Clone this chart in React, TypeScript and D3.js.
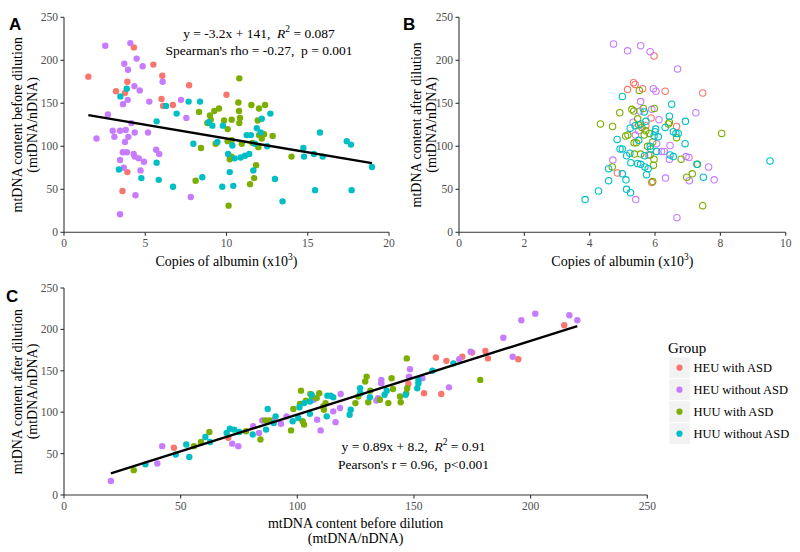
import React from "react";
import * as d3 from "d3";

type Pt = [number, number];

const groupNames = ["HEU with ASD", "HEU without ASD", "HUU with ASD", "HUU without ASD"];
const groupColors = ["#F8766D", "#C77CFF", "#7CAE00", "#00BFC4"];

// Panel A: copies of albumin (x10^3) vs mtDNA before dilution
const aHeuAsd: Pt[] = [[1.5,181],[4.3,215],[5.5,195],[6.05,182],[3.2,164],[3.9,175],[3.75,162],[6.0,155],[6.1,147],[6.7,148],[7.7,171],[10.0,160],[3.9,70],[3.6,48]];
const aHeuNo: Pt[] = [[2.54,217],[4.08,220],[4.47,202],[4.84,193],[3.71,196],[3.94,189],[4.33,170],[4.66,165],[3.92,154],[3.63,149],[5.25,152],[6.07,175],[7.2,154],[7.53,133],[2.7,137],[2.0,109],[3.0,118],[3.1,111],[3.45,118],[3.8,119],[3.96,111],[3.75,105],[4.15,127],[4.35,116],[5.17,116],[3.62,93],[3.87,93],[4.29,91],[4.35,88],[4.6,86],[4.92,82],[5.67,96],[5.86,91],[3.45,84],[3.68,75],[4.71,72],[4.4,43],[7.8,41],[3.45,21]];
const aHuuAsd: Pt[] = [[10.79,179],[8.31,140],[8.98,136],[9.25,141],[9.54,144],[9.03,131],[8.82,127],[9.85,130],[10.32,131],[10.73,151],[10.77,141],[10.83,133],[10.79,127],[11.53,148],[12.0,144],[12.37,148],[11.92,130],[10.07,120],[12.0,113],[12.31,114],[12.17,109],[12.84,112],[10.32,107],[10.07,106],[10.94,103],[11.96,99],[11.59,104],[8.43,98],[9.33,103],[10.3,88],[10.2,85],[14.0,88],[11.82,78],[11.7,63],[11.45,56],[8.1,60],[10.13,31]];
const aHuuNo: Pt[] = [[3.86,167],[3.47,158],[3.38,73],[4.76,63],[5.7,129],[5.7,81],[5.83,61],[6.28,147],[6.93,138],[6.71,53],[7.67,152],[8.37,152],[7.96,103],[8.51,64],[8.9,128],[9.13,124],[9.78,124],[9.44,105],[10.1,91],[10.36,101],[10.2,70],[9.74,53],[10.42,54],[10.5,86],[10.87,87],[11.14,89],[11.4,91],[11.24,113],[11.5,113],[11.86,121],[12.1,116],[12.17,132],[12.7,138],[11.75,103],[12.5,100],[11.65,72],[12.98,62],[13.45,36],[14.73,98],[14.77,88],[15.75,116],[15.38,91],[15.92,88],[15.45,49],[17.4,106],[17.66,102],[18.95,76],[17.7,49]];

// Panel B: copies of albumin after dilution vs mtDNA after dilution
const bHeuAsd: Pt[] = [[5.97,205],[5.34,174],[5.39,172],[5.16,166],[5.62,167],[6.31,164],[7.46,162],[5.88,133],[6.66,123],[5.72,124],[4.85,69],[5.9,58]];
const bHeuNo: Pt[] = [[4.73,219],[5.56,217],[5.16,211],[5.85,210],[6.69,190],[5.95,167],[6.03,164],[5.56,152],[5.54,141],[5.9,143],[7.25,139],[6.12,131],[5.33,128],[5.4,113],[6.05,103],[6.46,101],[6.2,94],[6.28,94],[4.71,84],[6.44,85],[6.95,88],[7.04,87],[7.64,76],[6.32,63],[7.05,60],[7.81,61],[5.41,38],[6.67,17],[5.8,90],[5.5,118]];
const bHuuAsd: Pt[] = [[4.33,126],[4.7,123],[4.92,139],[5.29,143],[5.35,141],[5.52,165],[5.64,144],[5.98,144],[5.47,132],[5.5,125],[5.6,122],[5.72,118],[5.67,113],[5.83,115],[5.1,112],[5.17,113],[5.36,104],[5.43,104],[5.56,91],[5.37,91],[5.93,105],[5.77,100],[6.44,128],[6.41,126],[6.66,110],[8.04,115],[4.69,76],[5.95,78],[5.97,85],[6.8,85],[7.14,68],[6.97,64],[7.3,79],[5.93,59],[7.46,31],[5.85,90]];
const bHuuNo: Pt[] = [[5.0,158],[5.67,140],[6.51,149],[6.44,135],[6.93,129],[5.24,121],[5.39,124],[5.56,126],[5.72,129],[6.02,120],[6.0,117],[6.1,111],[5.97,112],[6.31,122],[6.56,117],[6.64,115],[6.71,115],[4.84,108],[4.93,97],[5.0,97],[5.5,107],[5.85,100],[5.87,97],[6.05,94],[6.92,103],[6.46,90],[6.56,88],[5.68,89],[5.13,89],[5.23,92],[5.26,81],[5.47,80],[5.56,79],[5.69,76],[5.79,74],[5.74,67],[4.58,74],[5.0,68],[4.58,60],[5.11,61],[5.13,50],[5.25,46],[4.27,48],[3.86,38],[7.28,79],[7.48,64],[9.52,83]];

// Panel C: mtDNA before vs after dilution
const cHeuAsd: Pt[] = [[214.4,205],[180.6,174],[181.7,165],[194.7,164],[174.9,172],[170.7,167],[159.4,166],[163.9,162],[161.7,122],[154.3,123],[147.9,142],[147.6,134],[47.1,57],[70.4,69]];
const cHeuNo: Pt[] = [[20.1,17],[40,38],[42.1,59],[72.1,62],[74.7,59],[81.1,83],[83.6,75],[93,86],[95.4,95],[85,90],[110,78],[108.5,91],[116.4,88],[115.4,101],[118.3,105],[118.6,122],[133.9,114],[136,135],[136,139],[134.6,117],[147.9,143],[148.3,152],[153.6,141],[165,130],[169.4,164],[174.3,173],[188.3,190],[192.3,167],[196,211],[202,219],[216.6,217],[220,211],[107,115],[90,91]];
const cHuuAsd: Pt[] = [[29.9,30],[55.7,59],[58.7,64],[62.3,76],[78,77],[84.2,67],[86.3,90],[88,90],[97.3,78],[98.3,104],[101.1,110],[101.6,126],[102.3,89],[102.9,85],[105.6,122],[103.7,114],[106.3,119],[109.4,123],[108.3,117],[111.1,107],[111.4,103],[112.1,111],[124.9,111],[129.1,137],[129.7,143],[131.3,126],[130.4,112],[126.1,119],[135.4,115],[140.4,141],[139,111],[141,128],[144.3,112],[146.7,123],[146.9,165],[147.1,129],[178.4,139],[144,119]];
const cHuuNo: Pt[] = [[34.9,37],[47.9,49],[52.4,61],[53.7,46],[60.6,70],[62.6,64],[69.7,75],[71.1,80],[72.9,79],[75.1,76],[80.9,73],[87.3,104],[86.6,79],[89.9,87],[90.7,95],[98,89],[100.4,93],[100.9,106],[102.9,111],[105.4,98],[106.1,121],[105.4,113],[112.9,120],[114.3,120],[115.4,118],[112.6,95],[122.4,97],[122.9,103],[127,123],[126.9,129],[131.1,118],[137.4,121],[138.3,126],[151.4,129],[166.9,159],[157.9,150],[151.9,139],[151.9,135],[146.4,121]];

const ticksAx = [0, 5, 10, 15, 20];
const ticksBx = [0, 2, 4, 6, 8, 10];
const ticksCx = [0, 50, 100, 150, 200, 250];
const ticksY = [0, 50, 100, 150, 200, 250];

const fitA = { slope: -3.2, intercept: 141, r2: "0.087", stat: "Spearman's rho = -0.27,\u00A0\u00A0p = 0.001" };
const fitC = { slope: 0.89, intercept: 8.2, r2: "0.91", stat: "Pearson's r = 0.96,\u00A0\u00A0p<0.001" };

const SERIF = "'Liberation Serif', 'Times New Roman', serif";
const SANS = "'Liberation Sans', Arial, sans-serif";
const AXIS = "#333333";
const TICKTXT = "#4D4D4D";

type PanelProps = {
  label: string;
  xDomain: [number, number];
  xRange: [number, number];
  yRange: [number, number];
  xTicks: number[];
  sets: Pt[][];
  hollow?: boolean;
  fit?: { slope: number; intercept: number };
  yTitle: string[];
  xTitle: React.ReactNode[];
  xTitleY: number[];
  yTitleX: number[];
  labelPos: [number, number];
};

function Panel(p: PanelProps) {
  const x = d3.scaleLinear().domain(p.xDomain).range(p.xRange);
  const y = d3.scaleLinear().domain([0, 250]).range(p.yRange);
  const all = p.sets.flat();
  const xs = d3.extent(all, (d) => d[0]) as [number, number];
  const line = d3.line<number>().x((v) => x(v)).y((v) => y(p.fit!.intercept + p.fit!.slope * v));
  const yMid = (p.yRange[0] + p.yRange[1]) / 2;
  const xMid = (p.xRange[0] + p.xRange[1]) / 2;
  return (
    <g>
      <text x={p.labelPos[0]} y={p.labelPos[1]} fontFamily={SANS} fontWeight="bold" fontSize={17}>{p.label}</text>
      <line x1={p.xRange[0]} x2={p.xRange[1]} y1={p.yRange[0]} y2={p.yRange[0]} stroke={AXIS} strokeWidth={1.1} />
      <line x1={p.xRange[0]} x2={p.xRange[0]} y1={p.yRange[0]} y2={p.yRange[1]} stroke={AXIS} strokeWidth={1.1} />
      {p.xTicks.map((t) => (
        <g key={"x" + t}>
          <line x1={x(t)} x2={x(t)} y1={p.yRange[0]} y2={p.yRange[0] + 3.5} stroke={AXIS} strokeWidth={1.1} />
          <text x={x(t)} y={p.yRange[0] + 15} textAnchor="middle" fontFamily={SERIF} fontSize={11.5} fill={TICKTXT}>{t}</text>
        </g>
      ))}
      {ticksY.map((t) => (
        <g key={"y" + t}>
          <line x1={p.xRange[0] - 3.5} x2={p.xRange[0]} y1={y(t)} y2={y(t)} stroke={AXIS} strokeWidth={1.1} />
          <text x={p.xRange[0] - 6} y={y(t) + 4} textAnchor="end" fontFamily={SERIF} fontSize={11.5} fill={TICKTXT}>{t}</text>
        </g>
      ))}
      {p.yTitle.map((s, i) => (
        <text key={"yt" + i} transform={`translate(${p.yTitleX[i]},${yMid}) rotate(-90)`} textAnchor="middle" fontFamily={SERIF} fontSize={14}>{s}</text>
      ))}
      {p.xTitle.map((s, i) => (
        <text key={"xt" + i} x={xMid} y={p.xTitleY[i]} textAnchor="middle" fontFamily={SERIF} fontSize={14}>{s}</text>
      ))}
      {p.sets.map((set, gi) =>
        set.map((d, i) =>
          p.hollow ? (
            <circle key={gi + "-" + i} cx={x(d[0])} cy={y(d[1])} r={3.2} fill="none" stroke={groupColors[gi]} strokeWidth={1.1} />
          ) : (
            <circle key={gi + "-" + i} cx={x(d[0])} cy={y(d[1])} r={3.2} fill={groupColors[gi]} />
          )
        )
      )}
      {p.fit && <path d={line([xs[0], xs[1]]) || ""} stroke="#000" strokeWidth={2.4} fill="none" />}
    </g>
  );
}

const albuminTitle = (
  <>
    Copies of albumin (x10<tspan dy={-6} fontSize={9.5}>3</tspan><tspan dy={6}>)</tspan>
  </>
);

function FitText({ cx, y1, y2, fit }: { cx: number; y1: number; y2: number; fit: { slope: number; intercept: number; r2: string; stat: string } }) {
  const sign = fit.intercept >= 0 ? "+" : "-";
  return (
    <g fontFamily={SERIF} fontSize={13.5} textAnchor="middle">
      <text x={cx} y={y1}>
        {`y = ${fit.slope}x ${sign} ${Math.abs(fit.intercept)},\u00A0\u00A0`}
        <tspan fontStyle="italic">R</tspan>
        <tspan dy={-6} fontSize={9.5}>2</tspan>
        <tspan dy={6}>{` = ${fit.r2}`}</tspan>
      </text>
      <text x={cx} y={y2}>{fit.stat}</text>
    </g>
  );
}

export default function App() {
  return (
    <svg width={800} height={552} style={{ display: "block", position: "absolute", left: 0, top: 0, background: "#fff" }}>
      <rect width={800} height={552} fill="#fff" />
      <Panel
        label="A"
        labelPos={[9, 30]}
        xDomain={[0, 20]}
        xRange={[64, 389]}
        yRange={[232.3, 17.3]}
        xTicks={ticksAx}
        sets={[aHeuAsd, aHeuNo, aHuuAsd, aHuuNo]}
        fit={fitA}
        yTitle={["mtDNA content before dilution", "(mtDNA/nDNA)"]}
        yTitleX={[22, 37]}
        xTitle={[albuminTitle]}
        xTitleY={[266]}
      />
      <FitText cx={259} y1={37.5} y2={55} fit={fitA} />
      <Panel
        label="B"
        labelPos={[403, 30]}
        xDomain={[0, 10]}
        xRange={[459, 785.7]}
        yRange={[232.3, 17.3]}
        xTicks={ticksBx}
        sets={[bHeuAsd, bHeuNo, bHuuAsd, bHuuNo]}
        hollow
        yTitle={["mtDNA content after dilution", "(mtDNA/nDNA)"]}
        yTitleX={[421, 436]}
        xTitle={[albuminTitle]}
        xTitleY={[266]}
      />
      <Panel
        label="C"
        labelPos={[6, 302]}
        xDomain={[0, 250]}
        xRange={[64, 647.3]}
        yRange={[495, 288]}
        xTicks={ticksCx}
        sets={[cHeuAsd, cHeuNo, cHuuAsd, cHuuNo]}
        fit={fitC}
        yTitle={["mtDNA content after dilution", "(mtDNA/nDNA)"]}
        yTitleX={[22, 37]}
        xTitle={["mtDNA content before dilution", "(mtDNA/nDNA)"]}
        xTitleY={[528, 543]}
      />
      <FitText cx={413.5} y1={451} y2={469} fit={fitC} />
      <g>
        <text x={668} y={353} fontFamily={SERIF} fontSize={15}>Group</text>
        {groupNames.map((g, i) => {
          const cy = 367.7 + i * 22;
          return (
            <g key={g}>
              <rect x={669.3} y={cy - 10.5} width={20.5} height={21} fill="#F2F2F2" />
              <circle cx={679.5} cy={cy} r={3.1} fill={groupColors[i]} />
              <text x={693.5} y={cy + 4.5} fontFamily={SERIF} fontSize={12.5}>{g}</text>
            </g>
          );
        })}
      </g>
    </svg>
  );
}
